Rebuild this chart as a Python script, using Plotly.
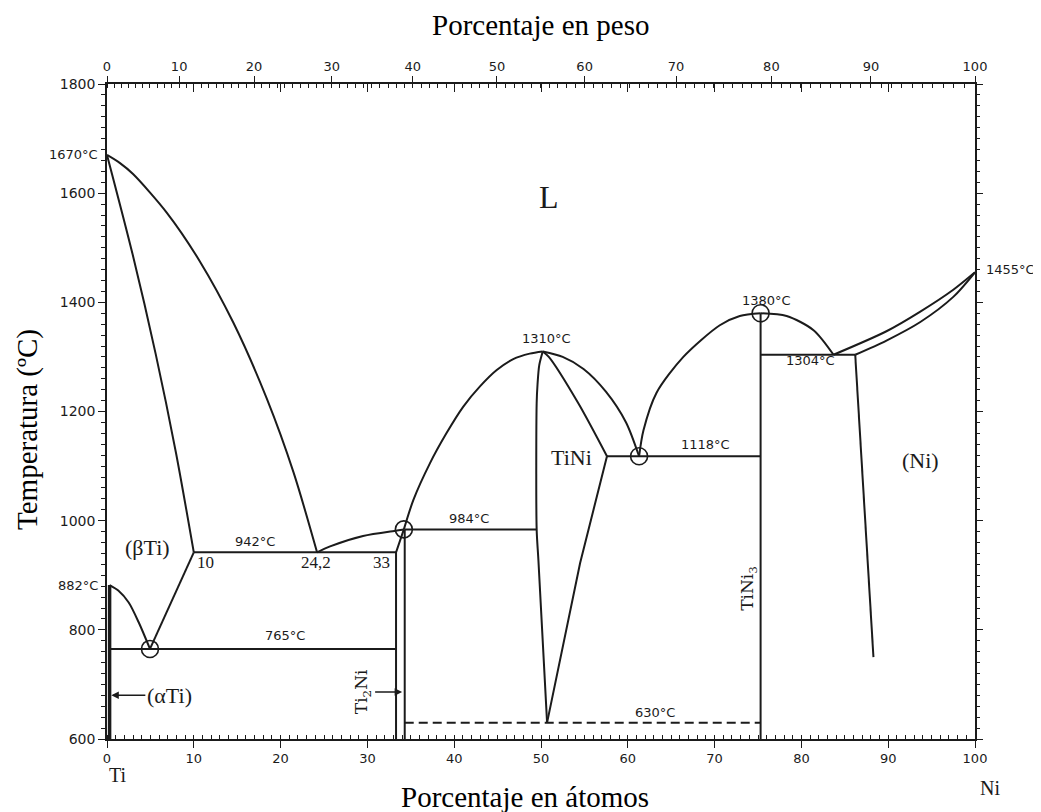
import plotly.graph_objects as go

# ---------------- data (at.% Ni, temperature °C) ----------------
at_ticks = list(range(0, 101, 10))
wt_ticks = list(range(0, 101, 10))
wt_minor = list(range(0, 101, 1))
y_ticks = list(range(600, 1801, 200))
M_TI, M_NI = 47.87, 58.69

liq_ti_x = [0, 1.5, 3.0, 6.9, 10.7, 14.55, 18.4, 21.5, 24.2]
liq_ti_y = [1670, 1655, 1635, 1564, 1475, 1363, 1224, 1088, 942]

sol_beta_x = [0, 2.95, 5.6, 7.95, 10]
sol_beta_y = [1670, 1488, 1306, 1124, 942]

solv_beta_x = [10, 4.95]
solv_beta_y = [942, 765]

transus_x = [0.3, 1.3, 2.5, 3.7, 4.95]
transus_y = [882, 872, 850, 812, 765]

alpha_x = [0.3, 0.3]
alpha_y = [882, 600]

eutectoid_x = [0.3, 33.3]
eutectoid_y = [765, 765]

eutectic1_x = [10, 33.3]
eutectic1_y = [942, 942]

ti2ni_left_x = [33.3, 33.3, 34.2]
ti2ni_left_y = [600, 942, 984]
ti2ni_right_x = [34.3, 34.3]
ti2ni_right_y = [600, 984]

liq_e1_x = [24.2, 25.7, 29.5, 33.4, 34.2]
liq_e1_y = [942, 953, 972, 982, 984]

perit_x = [34.3, 49.5]
perit_y = [984, 984]

liq_tini_l_x = [34.2, 35.3, 37.2, 39.1, 41.05, 42.97, 44.9, 46.8, 48.7, 50.2]
liq_tini_l_y = [984, 1038, 1105, 1160, 1209, 1246, 1276, 1296, 1306, 1310]

tini_left_x = [50.2, 49.8, 49.6, 49.5, 49.5, 49.7, 50.7]
tini_left_y = [1310, 1285, 1250, 1215, 984, 928, 630]

sol_tini_r_x = [50.2, 50.9, 54.3, 57.6]
sol_tini_r_y = [1310, 1300, 1215, 1118]

tini_right_x = [57.6, 54.5, 50.7]
tini_right_y = [1118, 922, 630]

liq_tini_r_x = [50.2, 52.5, 54.9, 57.5, 59.8, 61.3]
liq_tini_r_y = [1310, 1300, 1278, 1236, 1180, 1118]

eutectic2_x = [57.6, 75.3]
eutectic2_y = [1118, 1118]

liq_tini3_l_x = [61.3, 61.8, 63.3, 66.4, 70.6, 72.9, 75.3]
liq_tini3_l_y = [1118, 1165, 1234, 1300, 1358, 1375, 1380]

tini3_x = [75.3, 75.3]
tini3_y = [600, 1380]

liq_tini3_r_x = [75.3, 78.3, 81.4, 83.7]
liq_tini3_r_y = [1380, 1375, 1349, 1304]

eutectic3_x = [75.3, 86.2]
eutectic3_y = [1304, 1304]

liq_ni_x = [83.7, 89.8, 93.7, 97.5, 100]
liq_ni_y = [1304, 1347, 1383, 1423, 1455]

sol_ni_x = [86.2, 89.8, 93.7, 97.5, 100]
sol_ni_y = [1304, 1330, 1364, 1410, 1455]

solv_ni_x = [86.2, 88.3]
solv_ni_y = [1304, 750]

dash630_x = [34.3, 75.3]
dash630_y = [630, 630]

circ_x = [4.95, 34.2, 61.3, 75.3]
circ_y = [765, 984, 1118, 1380]


def wt_to_at(w):
    n = w / M_NI
    t = (100 - w) / M_TI
    return 100 * n / (n + t)


INK = "#1b1b1b"
fig = go.Figure()

straight = [
    (solv_beta_x, solv_beta_y), (eutectoid_x, eutectoid_y), (eutectic1_x, eutectic1_y),
    (ti2ni_left_x, ti2ni_left_y), (ti2ni_right_x, ti2ni_right_y), (perit_x, perit_y),
    (tini_right_x, tini_right_y), (eutectic2_x, eutectic2_y), (tini3_x, tini3_y),
    (eutectic3_x, eutectic3_y), (solv_ni_x, solv_ni_y),
]
curved = [
    (liq_ti_x, liq_ti_y), (sol_beta_x, sol_beta_y), (transus_x, transus_y),
    (liq_e1_x, liq_e1_y), (liq_tini_l_x, liq_tini_l_y), (sol_tini_r_x, sol_tini_r_y),
    (liq_tini_r_x, liq_tini_r_y), (liq_tini3_l_x, liq_tini3_l_y),
    (liq_tini3_r_x, liq_tini3_r_y), (liq_ni_x, liq_ni_y), (sol_ni_x, sol_ni_y),
    (tini_left_x, tini_left_y),
]
for xs, ys in straight:
    fig.add_trace(go.Scatter(x=xs, y=ys, mode="lines", line=dict(color=INK, width=2),
                             hoverinfo="skip", showlegend=False))
for xs, ys in curved:
    fig.add_trace(go.Scatter(x=xs, y=ys, mode="lines",
                             line=dict(color=INK, width=2, shape="spline", smoothing=0.8),
                             hoverinfo="skip", showlegend=False))
fig.add_trace(go.Scatter(x=alpha_x, y=alpha_y, mode="lines", line=dict(color=INK, width=3.5),
                         hoverinfo="skip", showlegend=False))
fig.add_trace(go.Scatter(x=dash630_x, y=dash630_y, mode="lines",
                         line=dict(color=INK, width=2, dash="9px,5px"),
                         hoverinfo="skip", showlegend=False))
fig.add_trace(go.Scatter(x=circ_x, y=circ_y, mode="markers",
                         marker=dict(symbol="circle-open", size=17, color=INK, line=dict(width=1.6)),
                         hoverinfo="skip", showlegend=False))

# dummy traces to activate the extra axes
fig.add_trace(go.Scatter(x=[0, 100], y=[600, 600], xaxis="x2", yaxis="y", mode="markers",
                         marker=dict(opacity=0), hoverinfo="skip", showlegend=False))
fig.add_trace(go.Scatter(x=[0, 100], y=[600, 600], xaxis="x3", yaxis="y", mode="markers",
                         marker=dict(opacity=0), hoverinfo="skip", showlegend=False))
fig.add_trace(go.Scatter(x=[0, 100], y=[600, 600], xaxis="x", yaxis="y2", mode="markers",
                         marker=dict(opacity=0), hoverinfo="skip", showlegend=False))

tickfont = dict(family="DejaVu Sans", size=13, color=INK)

fig.update_layout(
    width=1041, height=812,
    margin=dict(l=99, r=74, t=76, b=81),
    paper_bgcolor="white", plot_bgcolor="white",
    xaxis=dict(range=[0, 100], tickmode="array", tickvals=at_ticks, ticks="outside", ticklen=7,
               tickwidth=1.3, tickcolor=INK, showline=True, linecolor=INK, linewidth=1.5,
               mirror=True, showgrid=False, zeroline=False, tickfont=tickfont,
               minor=dict(dtick=1, tick0=0, ticks="inside", ticklen=4, tickcolor=INK, tickwidth=1)),
    xaxis2=dict(range=[0, 100], overlaying="x", side="top", anchor="y", tickmode="array",
                tickvals=[wt_to_at(w) for w in wt_ticks], ticktext=[str(w) for w in wt_ticks],
                ticks="outside", ticklen=7, tickwidth=1.3, tickcolor=INK, showline=False,
                showgrid=False, zeroline=False, tickfont=tickfont,
                minor=dict(tickmode="array", tickvals=[wt_to_at(w) for w in wt_minor],
                           ticks="inside", ticklen=4, tickcolor=INK, tickwidth=1)),
    xaxis3=dict(range=[0, 100], overlaying="x", side="top", anchor="y", tickmode="array",
                tickvals=at_ticks[1:-1], ticks="inside", ticklen=8, tickwidth=1.3, tickcolor=INK,
                showticklabels=False, showline=False, showgrid=False, zeroline=False),
    yaxis=dict(range=[600, 1800], tickmode="array", tickvals=y_ticks, ticks="outside", ticklen=7,
               tickwidth=1.3, tickcolor=INK, showline=True, linecolor=INK, linewidth=1.5,
               mirror=True, showgrid=False, zeroline=False,
               tickfont=dict(family="DejaVu Sans", size=14, color=INK),
               minor=dict(dtick=20, tick0=600, ticks="outside", ticklen=4, tickcolor=INK, tickwidth=1)),
    yaxis2=dict(range=[600, 1800], overlaying="y", side="right", anchor="x", tickmode="array",
                tickvals=y_ticks, ticks="outside", ticklen=7, tickwidth=1.3, tickcolor=INK,
                showticklabels=False, showline=False, showgrid=False, zeroline=False,
                minor=dict(dtick=20, tick0=600, ticks="outside", ticklen=4, tickcolor=INK, tickwidth=1)),
)

serif = "Liberation Serif"
sans = "DejaVu Sans"
ann = []


def lab(x, y, text, fam=sans, size=13, **kw):
    d = dict(x=x, y=y, xref="x", yref="y", text=text, showarrow=False,
             xanchor="center", yanchor="middle",
             font=dict(family=fam, size=size, color=INK))
    d.update(kw)
    ann.append(d)


lab(50.9, 1593, "L", serif, 32)
lab(4.7, 951, "(βTi)", serif, 22)
lab(17.1, 962, "942°C")
lab(11.3, 924, "10", serif, 17)
lab(24.1, 924, "24,2", serif, 17)
lab(31.6, 924, "33", serif, 17)
lab(0, 882, "882°C", xanchor="right", xshift=-7)
lab(0, 1670, "1670°C", xanchor="right", xshift=-7)
lab(100, 1460, "1455°C", xanchor="left", xshift=9)
lab(20.5, 790, "765°C")
lab(41.7, 1004, "984°C")
lab(50.6, 1334, "1310°C")
lab(53.5, 1116, "TiNi", serif, 22)
lab(69.0, 1140, "1118°C")
lab(76.0, 1404, "1380°C")
lab(81.1, 1293, "1304°C")
lab(93.7, 1111, "(Ni)", serif, 22)
lab(73.9, 876, "TiNi<sub>3</sub>", "DejaVu Serif", 17, textangle=-90)
lab(63.1, 649, "630°C")

# element labels below the axis (paper coordinates)
ann.append(dict(x=0.0127, y=-0.0554, xref="paper", yref="paper", text="Ti", showarrow=False,
                xanchor="center", yanchor="middle", font=dict(family=serif, size=20, color=INK)))
ann.append(dict(x=1.0173, y=-0.0753, xref="paper", yref="paper", text="Ni", showarrow=False,
                xanchor="center", yanchor="middle", font=dict(family=serif, size=20, color=INK)))

# arrows
ann.append(dict(x=0.5, y=680, xref="x", yref="y", text="(αTi)", showarrow=True,
                ax=58, ay=0, arrowhead=2, arrowsize=1, arrowwidth=1.5, arrowcolor=INK,
                font=dict(family=serif, size=22, color=INK)))
ann.append(dict(x=34.0, y=686, xref="x", yref="y", text="Ti<sub>2</sub>Ni", showarrow=True,
                ax=-40, ay=0, arrowhead=2, arrowsize=1, arrowwidth=1.5, arrowcolor=INK,
                textangle=-90, font=dict(family="DejaVu Serif", size=17, color=INK)))

# axis titles
title_font = dict(family=serif, size=29, color="black")
ann.append(dict(x=0.499, y=1.090, xref="paper", yref="paper", text="Porcentaje en peso",
                showarrow=False, xanchor="center", yanchor="middle", font=title_font))
ann.append(dict(x=0.4816, y=-0.0885, xref="paper", yref="paper", text="Porcentaje en átomos",
                showarrow=False, xanchor="center", yanchor="middle", font=title_font))
ann.append(dict(x=-0.091, y=0.4718, xref="paper", yref="paper", text="Temperatura (ºC)",
                showarrow=False, textangle=-90, xanchor="center", yanchor="middle", font=title_font))

fig.update_layout(annotations=ann)
fig.write_html("out.html")
